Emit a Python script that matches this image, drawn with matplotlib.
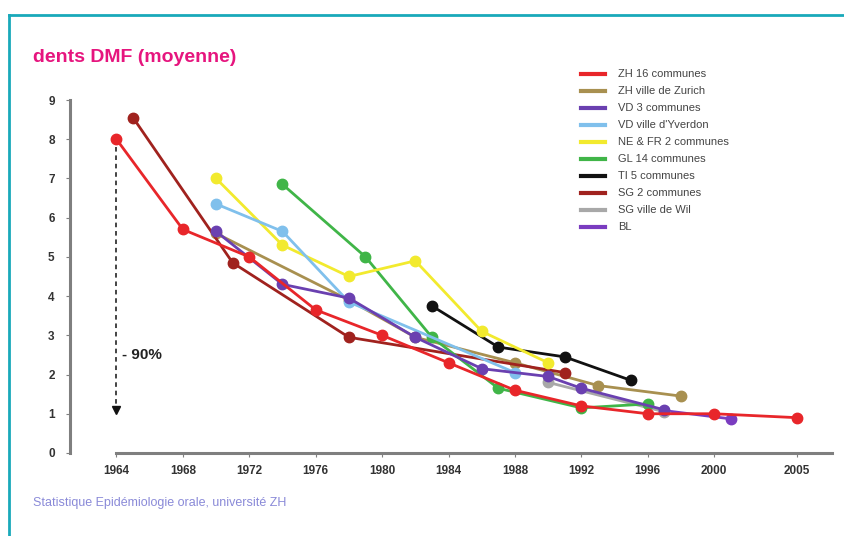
import matplotlib
matplotlib.use("Agg")
from matplotlib import pyplot as plt
from matplotlib.lines import Line2D

plt.rcParams['font.family'] = ['Liberation Sans', 'DejaVu Sans']

# données (dents DMF moyennes)
zh16_years = [1964, 1968, 1972, 1976, 1980, 1984, 1988, 1992, 1996, 2000, 2005]
zh16_vals = [8.0, 5.7, 5.0, 3.65, 3.0, 2.3, 1.6, 1.2, 1.0, 1.0, 0.9]

zurich_years = [1970, 1978, 1982, 1988, 1993, 1998]
zurich_vals = [5.6, 3.9, 2.95, 2.3, 1.72, 1.45]

vd3_years = [1970, 1974, 1978, 1982, 1986, 1990, 1992, 1997]
vd3_vals = [5.65, 4.3, 3.95, 2.95, 2.15, 1.95, 1.65, 1.1]

yverdon_years = [1970, 1974, 1978, 1988]
yverdon_vals = [6.35, 5.65, 3.85, 2.05]

nefr_years = [1970, 1974, 1978, 1982, 1986, 1990]
nefr_vals = [7.0, 5.3, 4.5, 4.9, 3.1, 2.3]

gl_years = [1974, 1979, 1983, 1987, 1992, 1996]
gl_vals = [6.85, 5.0, 2.95, 1.65, 1.15, 1.25]

ti_years = [1983, 1987, 1991, 1995]
ti_vals = [3.75, 2.7, 2.45, 1.85]

sg2_years = [1965, 1971, 1978, 1991]
sg2_vals = [8.55, 4.85, 2.95, 2.05]

wil_years = [1990, 1997]
wil_vals = [1.8, 1.05]

bl_years = [1997, 2001]
bl_vals = [1.08, 0.87]

labels = ['ZH 16 communes', 'ZH ville de Zurich', 'VD 3 communes', "VD ville d'Yverdon",
          'NE & FR 2 communes', 'GL 14 communes', 'TI 5 communes', 'SG 2 communes',
          'SG ville de Wil', 'BL']
colors = ['#e8262a', '#a89050', '#6a40b0', '#80c0ec', '#f2ea2e', '#40b548',
          '#111111', '#a0221e', '#a8a8a8', '#7a3cc0']
series = [(zh16_years, zh16_vals), (zurich_years, zurich_vals), (vd3_years, vd3_vals),
          (yverdon_years, yverdon_vals), (nefr_years, nefr_vals), (gl_years, gl_vals),
          (ti_years, ti_vals), (sg2_years, sg2_vals), (wil_years, wil_vals), (bl_years, bl_vals)]
x_ticks = [1964, 1968, 1972, 1976, 1980, 1984, 1988, 1992, 1996, 2000, 2005]

fig = plt.figure(figsize=(8.44, 5.36), dpi=100)
ax = fig.add_axes([0.0829, 0.1549, 0.9858 - 0.0829, 0.8134 - 0.1549])

# draw from last to first so ZH 16 ends on top, Zurich stays underneath
for i in range(len(series) - 1, -1, -1):
    xs, ys = series[i]
    z = 2.5 if i == 1 else 3 + (len(series) - i) * 0.1
    ax.plot(xs, ys, color=colors[i], lw=2.0, marker='o', markersize=7.5,
            clip_on=False, zorder=z)

ax.set_xlim(1961.2, 2007.1)
ax.set_ylim(0, 9)
ax.set_xticks(x_ticks)
ax.set_yticks(range(10))
for s in ['top', 'right']:
    ax.spines[s].set_visible(False)
for s in ['left', 'bottom']:
    ax.spines[s].set_color('#7f7f7f')
    ax.spines[s].set_linewidth(2.2)
ax.spines['bottom'].set_bounds(1964, 2007.1)
ax.tick_params(axis='x', length=3, width=0.8, color='#7f7f7f', pad=6,
               labelsize=8.5, labelcolor='#333333')
ax.tick_params(axis='y', length=3, width=0.8, color='#7f7f7f', pad=8,
               labelsize=8.5, labelcolor='#333333')
for t in ax.get_xticklabels() + ax.get_yticklabels():
    t.set_fontweight('bold')

# flèche pointillée -90%
ax.plot([1964, 1964], [7.8, 1.25], ls=(0, (3, 2.5)), color='#111111', lw=1.1, zorder=2)
ax.plot([1964], [1.1], marker='v', color='#111111', markersize=6, zorder=2)
ax.text(1964.35, 2.5, '- 90%', fontsize=11, fontweight='bold', color='#222222',
        va='center', ha='left')

handles = [Line2D([0], [0], color=c, lw=3) for c in colors]
fig.legend(handles, labels, loc='upper left', bbox_to_anchor=(0.676, 0.889),
           frameon=False, fontsize=8, handlelength=2.2, handletextpad=1.2,
           labelspacing=0.63, labelcolor='#444444')

fig.text(0.039, 0.893, 'dents DMF (moyenne)', fontsize=14, fontweight='bold',
         color='#e6157e', va='center', ha='left')
fig.text(0.039, 0.062, 'Statistique Epidémiologie orale, université ZH', fontsize=9,
         color='#8a8ad8', va='center', ha='left')

# cadre bleu (haut et gauche)
fig.add_artist(Line2D([0.0107, 1.0], [0.972, 0.972], color='#19a9ba', lw=2,
                      transform=fig.transFigure))
fig.add_artist(Line2D([0.0107, 0.0107], [0.0, 0.972], color='#19a9ba', lw=2,
                      transform=fig.transFigure))

fig.savefig('out.png', dpi=100)
plt.close()
